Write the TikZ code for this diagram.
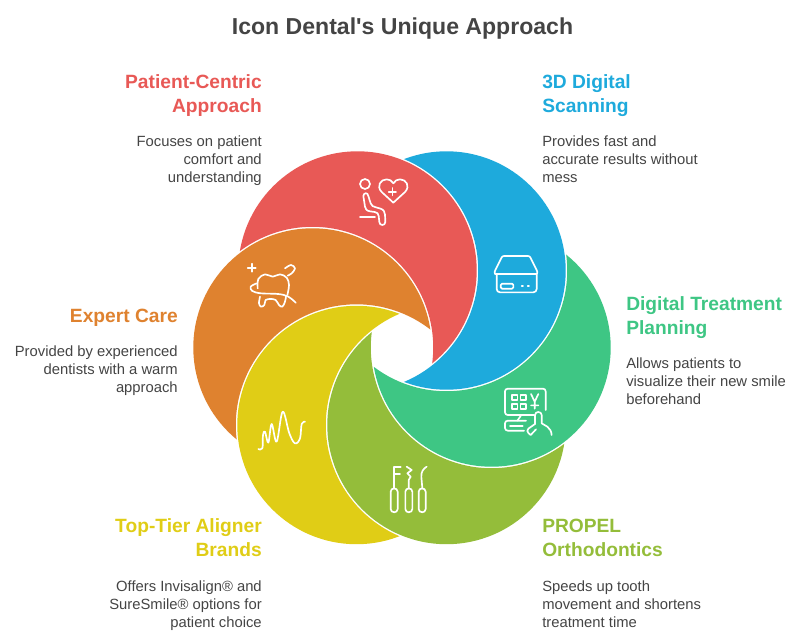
\documentclass[tikz,border=0pt]{standalone}
\usepackage{fontspec}
\setmainfont{Liberation Sans}
\usepackage{xcolor}
\definecolor{centric}{RGB}{232,89,86}
\definecolor{scanning}{RGB}{30,170,220}
\definecolor{planning}{RGB}{62,198,132}
\definecolor{propel}{RGB}{148,189,58}
\definecolor{aligner}{RGB}{224,205,22}
\definecolor{care}{RGB}{223,130,47}
\definecolor{bodytext}{RGB}{68,68,68}

\begin{document}
\begin{tikzpicture}[
  x=0.75pt, y=-0.75pt,
  title/.style={inner sep=0, text=bodytext, font=\fontsize{17.3}{22}\selectfont\bfseries},
  headright/.style={anchor=north east, inner sep=0, align=right, font=\fontsize{14.4}{18}\selectfont\bfseries},
  headleft/.style={anchor=north west, inner sep=0, align=left, font=\fontsize{14.4}{18}\selectfont\bfseries},
  bodyright/.style={anchor=north east, inner sep=0, align=right, text=bodytext, font=\fontsize{11.1}{13.5}\selectfont},
  bodyleft/.style={anchor=north west, inner sep=0, align=left, text=bodytext, font=\fontsize{11.1}{13.5}\selectfont},
  iconline/.style={draw=white, line width=1.25pt, line cap=round, line join=round},
  icon/.style={x=0.25pt, y=-0.25pt}
]
\useasboundingbox (0,0) rectangle (805,639);

% --- Kreismittelpunkte ---
\coordinate (ccentric) at (357.5,270.5);
\coordinate (cscanning) at (446.5,270.5);
\coordinate (cplanning) at (491.5,347.5);
\coordinate (cpropel) at (446.5,425);
\coordinate (caligner) at (356.5,425);
\coordinate (ccare) at (312.5,347.5);

% --- Sicheln: jeder Kreis ohne den Kreis darueber ---
\foreach \lower/\upper in {centric/care, care/aligner, aligner/propel, propel/planning, planning/scanning, scanning/centric} {
  \begin{scope}[even odd rule]
    \clip (0,0) rectangle (805,639) (c\upper) circle (120.7);
    \fill[\lower] (c\lower) circle (119.2);
  \end{scope}
}

% --- Titel ---
\node[title] (heading) at (402.5,28.5) {Icon Dental\textquotesingle s Unique Approach};

% --- Texte links ---
\node[headright, text=centric] (centrichead) at (262,74.5) {Patient-Centric\\Approach};
\node[bodyright] (centricbody) at (262,136) {Focuses on patient\\comfort and\\understanding};
\node[headright, text=care] (carehead) at (178,308.5) {Expert Care};
\node[bodyright] (carebody) at (178,346) {Provided by experienced\\dentists with a warm\\approach};
\node[headright, text=aligner] (alignerhead) at (262,518.5) {Top-Tier Aligner\\Brands};
\node[bodyright] (alignerbody) at (262,580) {Offers Invisalign® and\\SureSmile® options for\\patient choice};

% --- Texte rechts ---
\node[headleft, text=scanning] (scanninghead) at (542,74.5) {3D Digital\\Scanning};
\node[bodyleft] (scanningbody) at (542,136) {Provides fast and\\accurate results without\\mess};
\node[headleft, text=planning] (planninghead) at (626,296.5) {Digital Treatment\\Planning};
\node[bodyleft] (planningbody) at (626,358) {Allows patients to\\visualize their new smile\\beforehand};
\node[headleft, text=propel] (propelhead) at (542,518.5) {PROPEL\\Orthodontics};
\node[bodyleft] (propelbody) at (542,580) {Speeds up tooth\\movement and shortens\\treatment time};

% --- Icon: Patient ---
\begin{scope}[shift={(340,160)}, icon]
  \draw[iconline] (75,72) circle (15);
  \draw[iconline] (60,170) -- (105,170);
  \draw[iconline] (70,108) .. controls (70,98) and (84,96) .. (85,108) -- (92,130) .. controls (94,138) and (100,140) .. (108,142) -- (122,146) .. controls (132,150) and (134,156) .. (135,164) -- (136,186) .. controls (136,198) and (118,198) .. (118,186) -- (116,168) .. controls (115,160) and (112,158) .. (104,156) -- (90,154) .. controls (80,152) and (76,148) .. (75,140) -- cycle;
  \draw[iconline] (160,128) -- (125,96) .. controls (108,78) and (122,58) .. (140,58) .. controls (148,58) and (156,62) .. (160,70) .. controls (164,62) and (172,58) .. (180,58) .. controls (198,58) and (212,78) .. (195,96) -- cycle;
  \draw[iconline] (157,84) -- (157,106) (146,95) -- (168,95);
\end{scope}

% --- Icon: Scanner ---
\begin{scope}[shift={(400,130)}, icon]
  \draw[iconline] (285,432) .. controls (283,428) and (284,424) .. (286,420) -- (304,384) .. controls (306,380) and (308,378) .. (312,378) -- (384,378) .. controls (388,378) and (390,380) .. (392,384) -- (410,420) .. controls (412,424) and (413,428) .. (411,432) -- cycle;
  \draw[iconline, rounded corners=2.5pt] (290,434) -- (290,487) -- (410,487) -- (410,434);
  \draw[iconline, rounded corners=1pt] (302,461) rectangle (340,476);
  \draw[iconline] (365,467) -- (369,467) (383,467) -- (387,467);
\end{scope}

% --- Icon: Bildschirm mit Hand ---
\begin{scope}[shift={(400,330)}, icon]
  \draw[iconline, rounded corners=2pt] (402,255) -- (315,255) -- (315,176) -- (437,176) -- (437,240);
  \foreach \sqx in {336,361} {
    \foreach \sqy in {195,222} {
      \draw[iconline] (\sqx,\sqy) rectangle +(16,14);
    }
  }
  \draw[iconline] (393,192) -- (404,215) -- (415,192) (404,215) -- (404,236) (393,226) -- (415,226);
  \draw[iconline] (362,258) -- (352,272);
  \draw[iconline, rounded corners=2pt] (378,272) -- (315,272) -- (315,302) -- (372,302);
  \draw[iconline] (330,288) -- (368,288);
  \draw[iconline] (405,282) -- (405,255) .. controls (405,243) and (425,243) .. (425,255) -- (425,280) -- (442,290) .. controls (450,296) and (454,304) .. (455,315);
  \draw[iconline] (405,282) -- (385,296) .. controls (379,300) and (382,306) .. (386,310) -- (392,315) -- (408,298);
\end{scope}

% --- Icon: Instrumente ---
\begin{scope}[shift={(380,460)}, icon]
  \foreach \tubex/\topy in {32/85, 76/85, 116/85} {
    \draw[iconline] (\tubex,\topy+10) .. controls (\tubex,\topy-3) and (\tubex+21,\topy-3) .. (\tubex+21,\topy+10) -- (\tubex+21,\topy+62) .. controls (\tubex+21,\topy+75) and (\tubex,\topy+75) .. (\tubex,\topy+62) -- cycle;
  }
  \draw[iconline] (62,20) -- (42,20) -- (42,85) (42,42) -- (60,42);
  \draw[iconline] (80,20) -- (95,30) -- (82,40) -- (92,50) -- (86,60) -- (86,85);
  \draw[iconline] (127,85) -- (124,50) .. controls (123,36) and (130,26) .. (140,20);
\end{scope}

% --- Icon: Welle ---
\begin{scope}[shift={(250,400)}, icon]
  \draw[iconline] plot[smooth, tension=0.6] coordinates {(25,147) (37,145) (39,105) (45,95) (55,128) (65,72) (80,125) (98,35) (118,100) (135,130) (150,115) (155,72) (165,65)};
\end{scope}

% --- Icon: Zahn ---
\begin{scope}[shift={(235,255)}, icon]
  \draw[iconline] (50,26) -- (50,50) (38,38) -- (62,38);
  \draw[iconline] plot[smooth, tension=0.6] coordinates {(68,100) (70,72) (90,58) (113,65) (135,58) (155,68) (162,90) (157,120)};
  \draw[iconline] plot[smooth, tension=0.6] coordinates {(65,85) (47,95) (52,108) (78,115) (130,117) (160,125) (182,143)};
  \draw[iconline] plot[smooth, tension=0.6] coordinates {(75,125) (72,145) (78,155) (88,150) (92,135) (107,132) (122,135) (132,150) (142,155) (150,140) (153,124)};
  \draw[iconline] plot[smooth, tension=0.6] coordinates {(150,40) (168,30) (180,40) (170,55) (158,62)};
\end{scope}
\end{tikzpicture}
\end{document}
